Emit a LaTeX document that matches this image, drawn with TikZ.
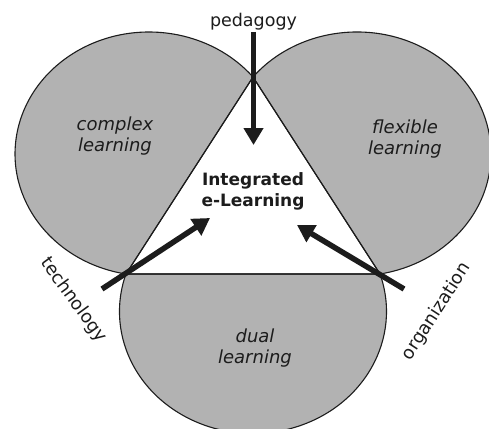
\documentclass[tikz,border=0pt]{standalone}
\usepackage{fontspec}
\setmainfont{DejaVu Sans}[ItalicFont={DejaVu Sans Oblique},BoldFont={DejaVu Sans Bold}]
\usetikzlibrary{arrows.meta}
\definecolor{lobegray}{RGB}{178,178,178}
\definecolor{inkdark}{RGB}{28,28,28}
\begin{document}
\begin{tikzpicture}[x=1pt,y=-1pt,
  lobe/.style={fill=lobegray,draw=inkdark,line width=1.1pt,line join=round},
  lobetext/.style={font=\fontsize{18}{20.5}\selectfont\itshape,text=inkdark,align=center,inner sep=0pt},
  force/.style={font=\fontsize{18}{20}\selectfont,text=inkdark,inner sep=0pt},
  core/.style={font=\fontsize{17}{21}\selectfont\bfseries,text=inkdark,align=center,inner sep=0pt},
  push/.style={line width=5.5pt,draw=inkdark,-{Triangle[length=17pt,width=19pt]}}]

% page frame
\fill[white] (0,0) rectangle (489,428);
\useasboundingbox (0,0) rectangle (489,428);

% corners of the central triangle
\coordinate (T) at (253,77);
\coordinate (L) at (126,274);
\coordinate (R) at (380,274);

% the three lobes: elliptic arcs closed by one side of the triangle
\filldraw[lobe] (L) arc[start angle=99.9,end angle=320.9,x radius=134,y radius=121.9] -- cycle;
\filldraw[lobe] (T) arc[start angle=219.1,end angle=440.1,x radius=134,y radius=121.9] -- cycle;
\filldraw[lobe] (R) arc[start angle=-17.9,end angle=197.9,x radius=133.5,y radius=122] -- cycle;

% central triangle
\draw[inkdark,line width=1.1pt,line join=round] (T) -- (L) -- (R) -- cycle;

% labels
\node[lobetext] (complex) at (115,136) {complex\\learning};
\node[lobetext] (flexible) at (405,139) {flexible\\learning};
\node[lobetext] (dual) at (255,348) {dual\\learning};
\node[core] (core) at (253,191) {Integrated\\e-Learning};

\node[force,font=\fontsize{17.5}{20}\selectfont] (pedagogy) at (253.5,22) {pedagogy};
\node[force,rotate=-54] (technology) at (73.5,300) {technology};
\node[force,rotate=57] (organization) at (436.5,311.5) {organization};

% driving forces
\coordinate (pedTail) at (253.5,32);
\coordinate (pedTip) at (253.5,145);
\coordinate (techTail) at (102,289);
\coordinate (techTip) at (210,218);
\coordinate (orgTail) at (404,289);
\coordinate (orgTip) at (297,225);

\draw[push] (pedTail) -- (pedTip);
\draw[push] (techTail) -- (techTip);
\draw[push] (orgTail) -- (orgTip);
\end{tikzpicture}
\end{document}
